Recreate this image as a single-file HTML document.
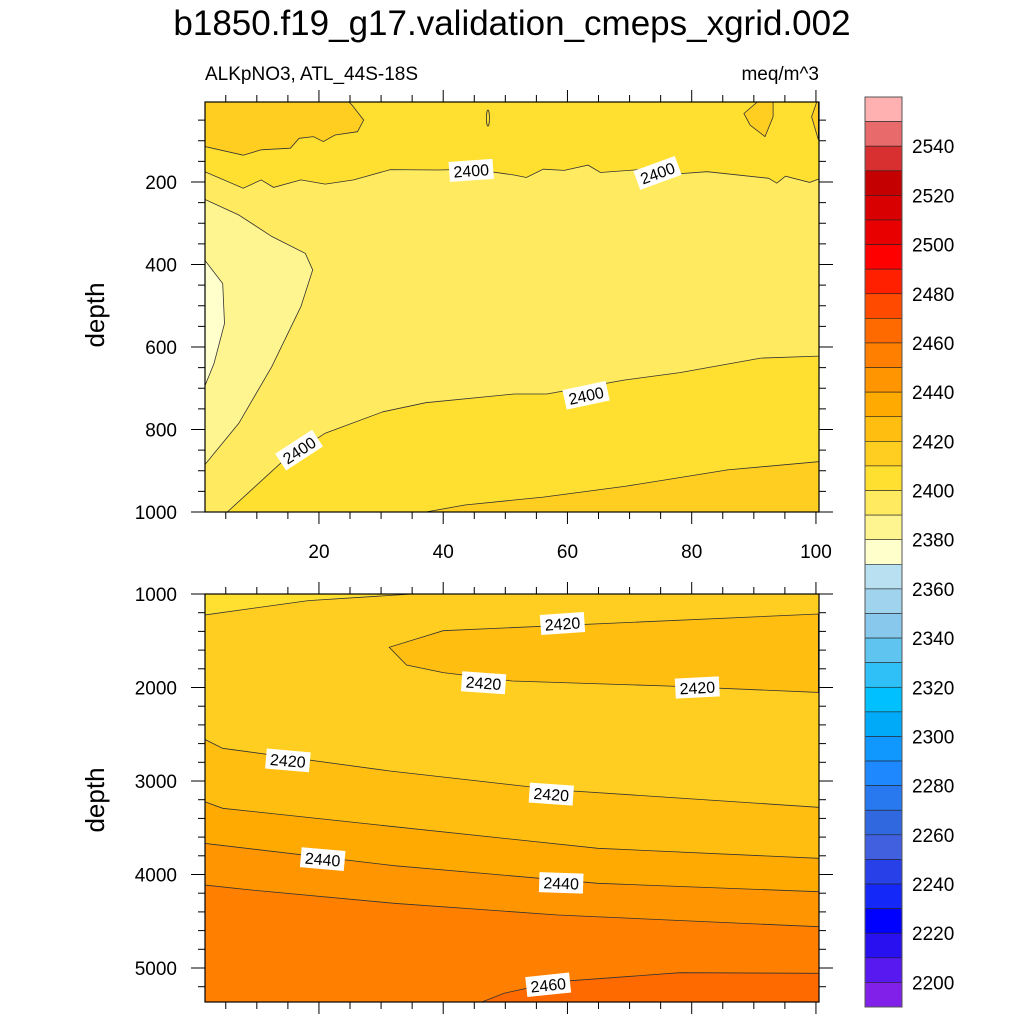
<!DOCTYPE html>
<html><head><meta charset="utf-8"><style>
html,body{margin:0;padding:0;background:#fff;}
svg{display:block;font-family:"Liberation Sans",sans-serif;}
</style></head><body>
<svg id="fig" width="1024" height="1024" viewBox="0 0 1024 1024" xmlns="http://www.w3.org/2000/svg">
<text x="512" y="35" text-anchor="middle" font-size="35">b1850.f19_g17.validation_cmeps_xgrid.002</text>
<text x="205" y="80" font-size="19">ALKpNO3, ATL_44S-18S</text>
<text x="819" y="80" text-anchor="end" font-size="19">meq/m^3</text>
<text transform="translate(104,315) rotate(-90)" text-anchor="middle" font-size="26">depth</text>
<text transform="translate(104,800) rotate(-90)" text-anchor="middle" font-size="26">depth</text>
<defs>
<clipPath id="clipTop"><rect x="205" y="102" width="614" height="410"/></clipPath>
<clipPath id="clipBot"><rect x="205" y="594" width="614" height="408"/></clipPath>
</defs>
<g id="topPlot" clip-path="url(#clipTop)"></g>
<g id="botPlot" clip-path="url(#clipBot)"></g>
<g id="axes"></g>
<g id="cbar"></g>
</svg>
<script>
// ---- data ----
const xTicks = [20, 40, 60, 80, 100];
const topDepthTicks = [200, 400, 600, 800, 1000];
const botDepthTicks = [1000, 2000, 3000, 4000, 5000];
const cbarColors = ["#FFB0B0","#E86A6A","#D83030","#C40000","#D80000","#E80000","#FF0000","#FF2000","#FF4A00","#FF6A00","#FF7F00","#FF9500","#FFAA00","#FFBE10","#FFCE20","#FFE030","#FFEA60","#FFF590","#FFFFCC","#B8E0F0","#A0D4EE","#88C8EC","#60C4F0","#30C0F8","#00C0FF","#00AAF8","#1098FF","#1E88FF","#2878F0","#3068E0","#4060E0","#2840E8","#1428F8","#0000FF","#2810F0","#5818F0","#8020E8"];
const cbarLabels = [2540,2520,2500,2480,2460,2440,2420,2400,2380,2360,2340,2320,2300,2280,2260,2240,2220,2200];
// top panel contour lines [x, depth]
const topLine2400a = [[1.6,175],[7.8,215],[10.7,195],[12.7,213],[17.1,195],[21,205],[25.6,195],[31.5,170],[39.2,171],[44.8,169],[51.4,183],[53.4,189],[56.1,169],[59.5,172],[63.3,159],[65.3,177],[72.5,169],[75.2,183],[82.5,175],[92.4,191],[93.7,203],[95.1,186],[99,201],[100.4,193]];
const topLine2390 = [[1.6,242],[7.1,280],[12.4,332],[17.8,373],[19,413],[17.1,502],[12.4,648],[7.1,785],[1.6,886]];
const topLine2380 = [[1.6,389],[4.5,446],[4.8,543],[3.1,640],[1.6,696]];
const topLine2400b = [[5.1,1002],[14.4,874],[21,809],[30.3,757],[37.2,735],[51.4,714],[56.7,714],[69.2,680],[78.1,662],[91.1,627],[100.4,622]];
const topLine2410 = [[36.5,1002],[43.5,983],[56.1,964],[69.2,938],[85.8,898],[100.4,878]];
const topPatchL = [[1.6,3],[1.6,114],[7.8,135],[10.7,122],[15.4,118],[16.8,94],[19.1,90],[20.7,102],[22.6,86],[26.2,78],[27.2,50],[25.3,13],[24.6,3]];
const topPatchR1 = [[88.4,34],[90.8,3],[93.1,3],[93.1,42],[91.8,90],[89.4,62]];
const topPatchR2 = [[100.4,3],[100.2,3],[99.3,42],[100.4,98]];
// bottom panel contour lines
const botCorner = [[1.6,1000],[1.6,1225],[18.3,1071],[35,1000]];
const botTongue = [[100.4,1214],[40,1392],[31.3,1570],[34.1,1759],[40,1841],[51.1,1930],[76.1,1984],[100.4,2052]];
const botLine2420 = [[1.6,2554],[4.5,2650],[31.4,2893],[58.4,3096],[100.4,3281]];
const botLine2430 = [[1.6,3221],[4.5,3292],[32.1,3489],[64.9,3720],[100.4,3827]];
const botLine2440 = [[1.6,3667],[32.1,3906],[64.9,4094],[100.4,4184]];
const botLine2450 = [[1.6,4112],[9.1,4166],[32.1,4308],[58.4,4433],[100.4,4558]];
const botLine2460 = [[45.2,5390],[49.8,5270],[58.4,5146],[78.1,5050],[100.4,5057]];
const labelsTop = [[44.5,172,-4,"2400"],[74.5,178,-20,"2400"],[63,717,-12,"2400"],[16.8,850,-33,"2400"]];
const labelsBot = [[59.2,1315,-4,"2420"],[46.5,1950,4,"2420"],[80.9,2000,-3,"2420"],[15,2780,5,"2420"],[57.4,3140,4,"2420"],[20.6,3835,5,"2440"],[59,4090,2,"2440"],[56.9,5180,-6,"2460"]];

// ---- axis functions ----
const X = v => 194.7 + v * 6.2125;
const YT = d => 99.5 + d * 0.4125;
const YB = d => 594 + (d - 1000) * 0.0935;
const NS = "http://www.w3.org/2000/svg";
function mk(tag, attrs, parent){ const e=document.createElementNS(NS,tag); for(const k in attrs) e.setAttribute(k,attrs[k]); parent.appendChild(e); return e; }
function pts(line, Y){ return line.map(p => X(p[0]).toFixed(1)+","+Y(p[1]).toFixed(1)).join(" "); }

function band(g, line, Y, color, closeTail, name){
  const p = pts(line, Y) + " " + closeTail;
  const e = mk("polygon",{points:p, fill:color, stroke:"none"}, g);
  
  
  const l = mk("polyline",{points:pts(line,Y), fill:"none", stroke:"#333", "stroke-width":"0.8"}, g);
  
  
}
function closed(g, line, Y, color, name){
  const e = mk("polygon",{points:pts(line,Y), fill:color, stroke:"#333", "stroke-width":"0.8"}, g);
  
  
}
function labels(g, arr, Y, name){
  arr.forEach(a=>{
    const gx = mk("g",{transform:`translate(${X(a[0]).toFixed(1)},${Y(a[1]).toFixed(1)}) rotate(${a[2]})`}, g);
    
    
    mk("rect",{x:-22,y:-10,width:44,height:20,fill:"#fff"}, gx);
    const t = mk("text",{x:0,y:6,"text-anchor":"middle","font-size":"16"}, gx);
    t.textContent = a[3];
  });
}

// ---- top panel ----
const gt = document.getElementById("topPlot");
mk("rect",{x:205,y:102,width:614,height:410,fill:"#FFE030"}, gt);
const BR_T = `${X(100.4)},${YT(1002)} ${X(1.6)},${YT(1002)}`;
band(gt, topLine2400a, YT, "#FFEA60", BR_T, "contour-2400-upper");
band(gt, topLine2400b, YT, "#FFE030", `${X(100.4)},${YT(1002)}`, "contour-2400-lower");
band(gt, topLine2410, YT, "#FFCE20", `${X(100.4)},${YT(1002)}`, "contour-2410");
band(gt, topLine2390, YT, "#FFF590", `${X(1.6)},${YT(886)}`, "contour-2390");
band(gt, topLine2380, YT, "#FFFFCC", `${X(1.6)},${YT(696)}`, "contour-2380");
closed(gt, topPatchL, YT, "#FFCE20", "patch-2410-left");
closed(gt, topPatchR1, YT, "#FFCE20", "patch-2410-right");
closed(gt, topPatchR2, YT, "#FFCE20", "patch-2410-edge");
const el = mk("ellipse",{cx:X(47.2),cy:YT(45),rx:1.5,ry:8,fill:"none",stroke:"#333","stroke-width":"0.8"}, gt);


labels(gt, labelsTop, YT, "contour-label");

// ---- bottom panel ----
const gb = document.getElementById("botPlot");
mk("rect",{x:205,y:594,width:614,height:408,fill:"#FFCE20"}, gb);
closed(gb, botCorner, YB, "#FFE030", "region-2400-corner");
closed(gb, botTongue, YB, "#FFBE10", "tongue-2420");
const BR_B = `${X(100.4)},${YB(5400)} ${X(1.6)},${YB(5400)}`;
band(gb, botLine2420, YB, "#FFBE10", BR_B, "contour-2420");
band(gb, botLine2430, YB, "#FFAA00", BR_B, "contour-2430");
band(gb, botLine2440, YB, "#FF9500", BR_B, "contour-2440");
band(gb, botLine2450, YB, "#FF7F00", BR_B, "contour-2450");
band(gb, botLine2460, YB, "#FF6A00", `${X(100.4)},${YB(5400)}`, "contour-2460");
labels(gb, labelsBot, YB, "contour-label");

// ---- axes ----
const ga = document.getElementById("axes");
function frame(y0,y1,name){
  const r = mk("rect",{x:205,y:y0,width:614,height:y1-y0,fill:"none",stroke:"#000","stroke-width":"1.2"}, ga);
  
  
}
frame(102,512,"top-plot-frame"); frame(594,1002,"bottom-plot-frame");
function xt(y0,y1){
  for(let v=5; v<=100; v+=5){
    const major = v%20===0, L = major?12:7, x=X(v);
    mk("line",{x1:x,y1:y0,x2:x,y2:y0-L,stroke:"#000","stroke-width":"1"}, ga);
    mk("line",{x1:x,y1:y1,x2:x,y2:y1+L,stroke:"#000","stroke-width":"1"}, ga);
  }
}
xt(102,512); xt(594,1002);
xTicks.forEach(v=>{
  const t = mk("text",{x:X(v),y:558,"text-anchor":"middle","font-size":"19"}, ga);
  
  
  t.textContent = v;
});
for(let d=50; d<=1000; d+=50){
  const major = d%200===0, L=major?14:7, y=YT(d);
  if(y<102) continue;
  mk("line",{x1:205,y1:y,x2:205-L,y2:y,stroke:"#000","stroke-width":"1"}, ga);
  mk("line",{x1:819,y1:y,x2:819+L,y2:y,stroke:"#000","stroke-width":"1"}, ga);
}
topDepthTicks.forEach(d=>{
  const t = mk("text",{x:177,y:YT(d)+7,"text-anchor":"end","font-size":"19"}, ga);
  
  
  t.textContent = d;
});
for(let d=1000; d<=5400; d+=200){
  const major = d%1000===0, L=major?14:7, y=YB(d);
  if(y>1002) continue;
  mk("line",{x1:205,y1:y,x2:205-L,y2:y,stroke:"#000","stroke-width":"1"}, ga);
  mk("line",{x1:819,y1:y,x2:819+L,y2:y,stroke:"#000","stroke-width":"1"}, ga);
}
botDepthTicks.forEach(d=>{
  const t = mk("text",{x:177,y:YB(d)+7,"text-anchor":"end","font-size":"19"}, ga);
  
  
  t.textContent = d;
});

// ---- colorbar ----
const gc = document.getElementById("cbar");
const cb0 = 97, cbH = 910/cbarColors.length;
cbarColors.forEach((c,i)=>{
  const r = mk("rect",{x:865,y:cb0+i*cbH,width:37,height:cbH,fill:c,stroke:"#222","stroke-width":"0.6"}, gc);
  
  
});
mk("rect",{x:865,y:cb0,width:37,height:910,fill:"none",stroke:"#555","stroke-width":"1"}, gc);
cbarLabels.forEach((v,i)=>{
  const y = cb0 + (2 + 2*i)*cbH;
  const t = mk("text",{x:912,y:y+7,"font-size":"19"}, gc);
  
  
  t.textContent = v;
});
</script>
</body></html>
